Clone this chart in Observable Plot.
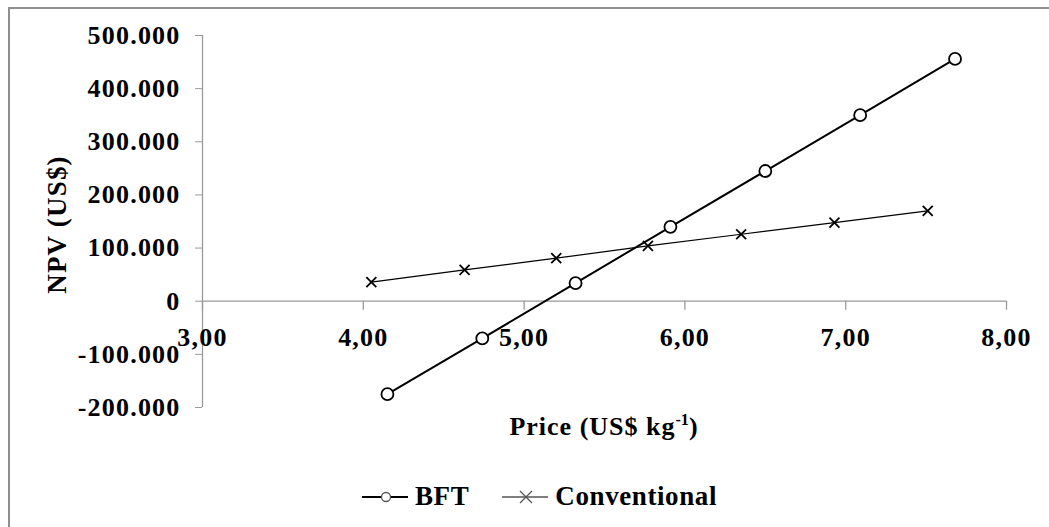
<!DOCTYPE html>
<html>
<head>
<meta charset="utf-8">
<script src="https://cdn.jsdelivr.net/npm/d3@7"></script>
<script src="https://cdn.jsdelivr.net/npm/@observablehq/plot@0.6"></script>
<style>
  html, body { margin: 0; padding: 0; background: #fff; }
  body { width: 1049px; height: 527px; overflow: hidden; position: relative;
         font-family: "Liberation Serif", "Times New Roman", serif; font-weight: bold; color: #000; }
  #chart { position: absolute; left: 0; top: 0; }
  #chart svg { overflow: visible; }
  #frame { position: absolute; left: 8px; top: 7px; width: 1100px; height: 600px;
           border-left: 2px solid #8f8f8f; border-top: 2px solid #8f8f8f; pointer-events: none; }
  #xtitle { position: absolute; left: 202px; width: 804px; top: 412px; text-align: center;
            font-size: 26px; letter-spacing: 1px; line-height: normal; white-space: nowrap; }
  #xtitle sup { font-size: 0.62em; vertical-align: baseline; position: relative; top: -0.6em; letter-spacing: 0; }
  #legend { position: absolute; left: 362px; top: 481px; display: flex; align-items: center;
            font-size: 27px; line-height: normal; white-space: nowrap; letter-spacing: 0.6px; }
  #legend .item { display: flex; align-items: center; }
  #legend svg { display: block; }
</style>
</head>
<body>
<div id="chart"></div>
<div id="xtitle">Price (US$ kg<sup>-1</sup>)</div>
<div id="legend"></div>
<div id="frame"></div>
<script>
// ---- Data ----
const seriesNames = ["BFT", "Conventional"];
const priceBFT = [4.15, 4.74, 5.32, 5.91, 6.50, 7.09, 7.68];
const npvBFT = [-175000, -70000, 34000, 140000, 245000, 350000, 456000];
const priceConv = [4.05, 4.63, 5.20, 5.77, 6.35, 6.93, 7.51];
const npvConv = [36000, 59000, 81000, 104000, 126000, 148000, 170000];

const xTicks = [3, 4, 5, 6, 7, 8];
const xTickLabels = ["3,00", "4,00", "5,00", "6,00", "7,00", "8,00"];
const yTicks = [-200000, -100000, 0, 100000, 200000, 300000, 400000, 500000];
const yTickLabels = ["-200.000", "-100.000", "0", "100.000", "200.000", "300.000", "400.000", "500.000"];

const yTitle = "NPV (US$)";

// ---- Tables built from arrays ----
const bft = priceBFT.map((p, i) => ({price: p, npv: npvBFT[i]}));
const conv = priceConv.map((p, i) => ({price: p, npv: npvConv[i]}));
const xTickData = xTicks.map((v, i) => ({v, label: xTickLabels[i]}));
const yLabelOf = new Map(yTicks.map((v, i) => [v, yTickLabels[i]]));

const axisGray = "#9a9a9a";

const plot = Plot.plot({
  width: 1049,
  height: 412,
  marginTop: 35,
  marginBottom: 5,
  marginLeft: 202,
  marginRight: 43,
  style: {
    fontFamily: '"Liberation Serif", "Times New Roman", serif',
    fontSize: "26px",
    fontWeight: "bold",
    letterSpacing: "1.2px",
    background: "transparent",
    overflow: "visible",
    color: "#000"
  },
  x: {domain: [3, 8], axis: null},
  y: {domain: [-200000, 500000]},
  marks: [
    // y axis line and x axis line (crossing at 0)
    Plot.ruleX([3], {stroke: axisGray, strokeWidth: 1.3}),
    Plot.ruleY([0], {stroke: axisGray, strokeWidth: 1.3}),
    Plot.axisY({
      ticks: yTicks,
      tickFormat: d => yLabelOf.get(d),
      tickSize: 7,
      tickPadding: 15,
      stroke: axisGray,
      fill: "#000",
      label: null
    }),
    // x ticks hanging below the zero line
    Plot.ruleX(xTickData, {x: "v", y1: 0, y2: 0, insetBottom: -9, stroke: axisGray, strokeWidth: 1.3}),
    Plot.text(xTickData, {x: "v", y: 0, text: "label", dy: 36, fill: "#000"}),
    // y title
    Plot.text([yTitle], {frameAnchor: "left", textAnchor: "middle", dx: -145, dy: 3, rotate: -90, text: d => d, fill: "#000", fontSize: 27}),
    // series
    Plot.line(conv, {x: "price", y: "npv", stroke: "#000", strokeWidth: 1.2}),
    Plot.dot(conv, {x: "price", y: "npv", symbol: "times", r: 4.6, stroke: "#000", strokeWidth: 1.8}),
    Plot.line(bft, {x: "price", y: "npv", stroke: "#000", strokeWidth: 2}),
    Plot.dot(bft, {x: "price", y: "npv", symbol: "circle", r: 6, stroke: "#000", fill: "#fff", strokeWidth: 1.8})
  ]
});
document.getElementById("chart").appendChild(plot);

// ---- Legend (HTML below the SVG) ----
const legend = document.getElementById("legend");
const ns = "http://www.w3.org/2000/svg";
function swatch(kind) {
  const s = document.createElementNS(ns, "svg");
  s.setAttribute("width", 47); s.setAttribute("height", 20);
  const l = document.createElementNS(ns, "line");
  l.setAttribute("x1", 0); l.setAttribute("x2", 46); l.setAttribute("y1", 10); l.setAttribute("y2", 10);
  l.setAttribute("stroke", "#000"); l.setAttribute("stroke-width", kind === "circle" ? 2 : 1.2);
  s.appendChild(l);
  if (kind === "circle") {
    const c = document.createElementNS(ns, "circle");
    c.setAttribute("cx", 24); c.setAttribute("cy", 10); c.setAttribute("r", 4.5);
    c.setAttribute("fill", "#fff"); c.setAttribute("stroke", "#555"); c.setAttribute("stroke-width", 1.3);
    s.appendChild(c);
  } else {
    const p = document.createElementNS(ns, "path");
    p.setAttribute("d", "M18,4L30,16M30,4L18,16");
    p.setAttribute("stroke", "#555"); p.setAttribute("stroke-width", 1.3);
    s.appendChild(p);
  }
  return s;
}
seriesNames.forEach((name, i) => {
  const item = document.createElement("div");
  item.className = "item";
  if (i > 0) item.style.marginLeft = "33px";
  item.appendChild(swatch(i === 0 ? "circle" : "times"));
  const t = document.createElement("span");
  t.textContent = name;
  t.style.marginLeft = "6px";
  item.appendChild(t);
  legend.appendChild(item);
});
</script>
</body>
</html>
